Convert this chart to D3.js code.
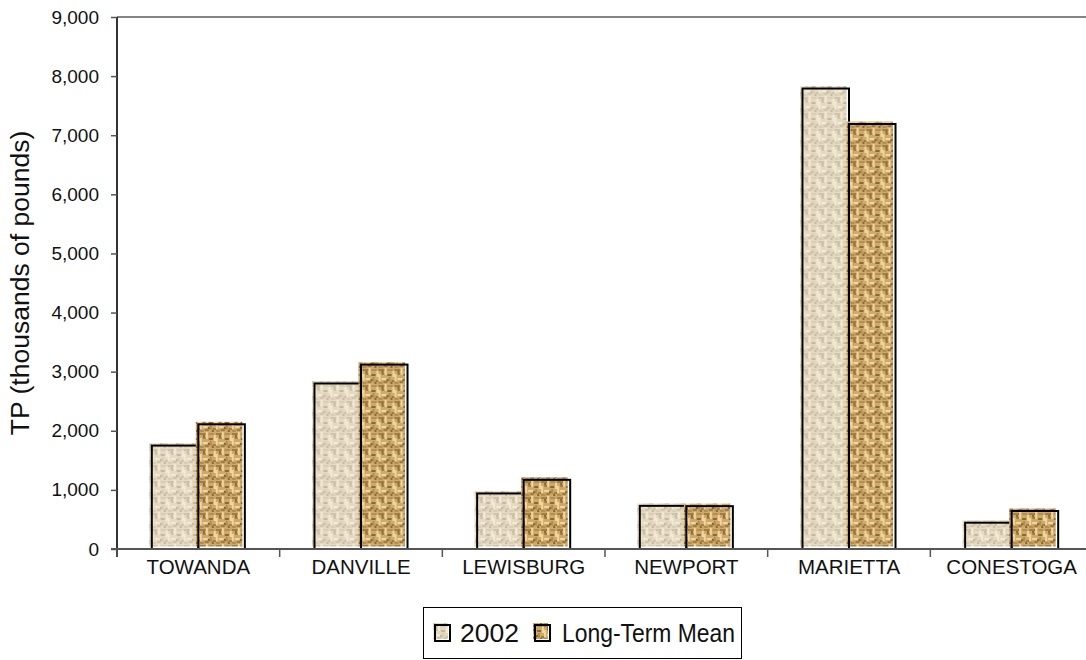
<!DOCTYPE html>
<html>
<head>
<meta charset="utf-8">
<script src="https://cdn.jsdelivr.net/npm/d3@7"></script>
<style>
  html, body { margin: 0; padding: 0; background: #fff; }
  svg { display: block; }
  text { font-family: "Liberation Sans", Arial, sans-serif; fill: #111; }
</style>
</head>
<body>
<svg id="chart" width="1086" height="660"></svg>
<script>
// ---- data ----
const categories = ["TOWANDA", "DANVILLE", "LEWISBURG", "NEWPORT", "MARIETTA", "CONESTOGA"];
const seriesNames = ["2002", "Long-Term Mean"];
const values2002 = [1750, 2800, 940, 730, 7790, 445];
const valuesLTM  = [2110, 3120, 1170, 725, 7190, 643];
const yTicks = [0, 1000, 2000, 3000, 4000, 5000, 6000, 7000, 8000, 9000];
const yTitle = "TP (thousands of pounds)";

const svg = d3.select("#chart");
const W = 1086, H = 660;
const mLeft = 117, mRight = 1093, mTop = 17, mBottom = 549;

// ---- textures (style only) ----
const defs = svg.append("defs");
function makePattern(id, base, pal, cells) {
  const p = defs.append("pattern").attr("id", id)
    .attr("patternUnits", "userSpaceOnUse").attr("width", 16).attr("height", 16);
  p.append("rect").attr("width", 16).attr("height", 16).attr("fill", base);
  cells.forEach(c => p.append("rect").attr("x", c[0]).attr("y", c[1])
    .attr("width", c[2]).attr("height", c[3]).attr("fill", pal[c[4]]));
}
const cellLayout = [
  [0, 1, 6, 2, 0], [9, 1, 5, 2, 1], [6, 0, 2, 7, 2], [14, 3, 2, 6, 2],
  [0, 6, 2, 7, 2], [3, 5, 3, 2, 0], [9, 6, 4, 2, 3], [3, 10, 5, 2, 2],
  [10, 9, 2, 5, 1], [0, 14, 4, 2, 1], [5, 13, 4, 2, 0], [13, 12, 3, 2, 0],
  [3, 3, 2, 2, 3], [12, 14, 2, 2, 3], [8, 11, 2, 2, 3]
];
makePattern("tex2002", "#e4d9c1", ["#d1c4a8", "#d9ceb5", "#f2e9d6", "#c6b99b"], cellLayout);
makePattern("texLTM", "#cdaa69", ["#a07c42", "#b38e50", "#efd59f", "#8a6733"], cellLayout);
const fills = ["url(#tex2002)", "url(#texLTM)"];

// ---- scales ----
const x = d3.scaleBand().domain(categories).range([mLeft, mRight])
  .paddingInner(0.428).paddingOuter(0.214);
const xs = d3.scaleBand().domain(seriesNames).range([0, x.bandwidth()]).padding(0);
const y = d3.scaleLinear().domain([0, 9000]).range([mBottom, mTop]);

// top border line
svg.append("line").attr("x1", mLeft).attr("x2", W).attr("y1", mTop).attr("y2", mTop)
  .attr("stroke", "#858585").attr("stroke-width", 2);

// ---- bars ----
const rows = categories.map((c, i) => ({ c, vals: [values2002[i], valuesLTM[i]] }));
const groups = svg.append("g").selectAll("g").data(rows).join("g")
  .attr("transform", d => `translate(${x(d.c)},0)`);
const bars = groups.selectAll("g").data(d => d.vals.map((v, k) => ({ v, k })))
  .join("g");
const off = 2.5;
bars.append("rect")
  .attr("x", d => xs(seriesNames[d.k]) - off)
  .attr("y", d => y(d.v) - off)
  .attr("width", xs.bandwidth())
  .attr("height", d => y(0) - y(d.v))
  .attr("fill", d => fills[d.k]);
bars.append("rect")
  .attr("x", d => xs(seriesNames[d.k]))
  .attr("y", d => y(d.v))
  .attr("width", xs.bandwidth())
  .attr("height", d => y(0) - y(d.v))
  .attr("fill", "none").attr("stroke", "#000").attr("stroke-width", 2);

// ---- y axis ----
const yAxis = svg.append("g").attr("transform", `translate(${mLeft},0)`)
  .call(d3.axisLeft(y).tickValues(yTicks).tickFormat(d3.format(",")).tickSize(6).tickPadding(12));
yAxis.select(".domain").attr("stroke", "#333").attr("stroke-width", 2).attr("d", `M0,${mTop}V${mBottom + 8}`);
yAxis.selectAll(".tick line").attr("stroke", "#555").attr("stroke-width", 1.5);
yAxis.selectAll(".tick text").style("font-size", "19px").attr("fill", "#111")
  .style("font-family", "'Liberation Sans', Arial, sans-serif");

// ---- x axis ----
svg.append("line").attr("x1", mLeft - 6).attr("x2", W).attr("y1", mBottom).attr("y2", mBottom)
  .attr("stroke", "#555").attr("stroke-width", 2);
const step = x.step();
const bounds = categories.map(c => x(c) - step * x.paddingInner() / 2);
svg.append("g").selectAll("line").data(bounds).join("line")
  .attr("x1", d => d).attr("x2", d => d).attr("y1", mBottom).attr("y2", mBottom + 8)
  .attr("stroke", "#555").attr("stroke-width", 1.5);
svg.append("g").selectAll("text").data(categories).join("text")
  .attr("x", d => x(d) + x.bandwidth() / 2).attr("y", 574)
  .attr("text-anchor", "middle").style("font-size", "20.5px").text(d => d);

// ---- y title ----
svg.append("text").attr("transform", "translate(29,283) rotate(-90)")
  .attr("text-anchor", "middle").style("font-size", "26.5px").text(yTitle);

// ---- legend ----
const lg = svg.append("g");
lg.append("rect").attr("x", 423.5).attr("y", 607.5).attr("width", 318).attr("height", 51)
  .attr("fill", "#fff").attr("stroke", "#000").attr("stroke-width", 1);
const legendItems = [
  { name: seriesNames[0], sx: 435, tx: 460, len: 59 },
  { name: seriesNames[1], sx: 535, tx: 562, len: 173 }
];
legendItems.forEach((it, k) => {
  lg.append("rect").attr("x", it.sx - 2).attr("y", 623).attr("width", 15).attr("height", 16)
    .attr("fill", fills[k]);
  lg.append("rect").attr("x", it.sx).attr("y", 625).attr("width", 15).attr("height", 16)
    .attr("fill", "none").attr("stroke", "#000").attr("stroke-width", 2);
  lg.append("text").attr("x", it.tx).attr("y", 642).style("font-size", "25.5px")
    .attr("textLength", it.len).attr("lengthAdjust", "spacingAndGlyphs").text(it.name);
});
</script>
</body>
</html>
